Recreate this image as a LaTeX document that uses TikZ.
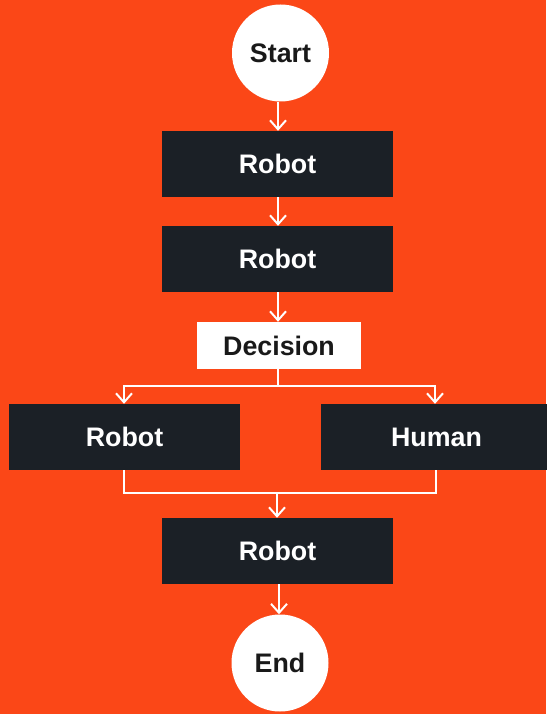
\documentclass[tikz,border=0pt]{standalone}
\usepackage{fontspec}
\setmainfont{Liberation Sans}
\usetikzlibrary{arrows.meta}
\definecolor{bgc}{HTML}{FB4717}
\definecolor{boxc}{HTML}{1B2026}
\begin{document}
\begin{tikzpicture}[x=1pt,y=-1pt,
  every node/.style={font=\fontsize{26.8}{30}\selectfont\bfseries},
  darkbox/.style={fill=boxc,text=white,minimum width=231pt,minimum height=66pt,inner sep=0pt},
  lightbox/.style={fill=white,text=black!90,minimum width=164pt,minimum height=47pt,inner sep=0pt},
  term/.style={circle,fill=white,text=black!90,minimum size=97pt,inner sep=0pt},
  conn/.style={draw=white,line width=2pt},
  arr/.style={conn,-{Straight Barb[length=9pt,width=16pt,line width=2pt]}}]
\fill[bgc] (0,0) rectangle (546,714);
\useasboundingbox (0,0) rectangle (546,714);
\node[term] (start) at (280.5,53) {Start};
\node[darkbox] (r1) at (277.5,164) {Robot};
\node[darkbox] (r2) at (277.5,259) {Robot};
\node[lightbox] (dec) at (279,345.5) {Decision};
\node[darkbox] (rl) at (124.5,437) {Robot};
\node[darkbox] (hu) at (436.5,437) {Human};
\node[darkbox] (r3) at (277.5,551) {Robot};
\node[term] (end) at (280,663) {End};
\coordinate (split) at (278,386);
\coordinate (merge) at (277,493);
\draw[arr] (start.south -| 278,0) -- (r1.north -| 278,0);
\draw[arr] (r1.south -| 278,0) -- (r2.north -| 278,0);
\draw[arr] (r2.south -| 278,0) -- (dec.north -| 278,0);
\draw[conn] (dec.south -| split) -- (split);
\draw[arr] (split) -| (rl.north -| 124,0);
\draw[arr] (split) -| (hu.north -| 435,0);
\draw[conn] (rl.south -| 124,0) |- (merge);
\draw[conn] (hu.south -| 436,0) |- (merge);
\draw[arr] (merge) -- (r3.north -| 277,0);
\draw[arr] (r3.south -| 279,0) -- (end.north -| 279,0);
\end{tikzpicture}
\end{document}
